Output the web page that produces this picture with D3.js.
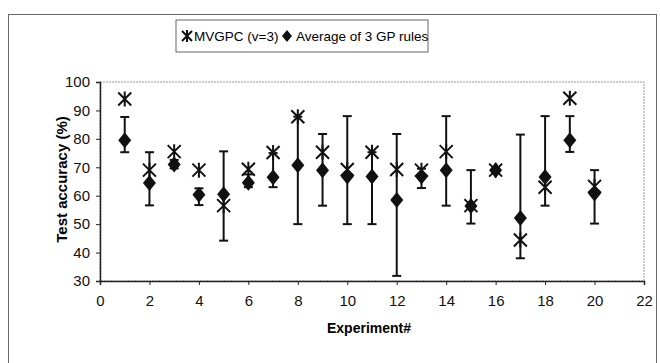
<!DOCTYPE html>
<html>
<head>
<meta charset="utf-8">
<script src="https://cdn.jsdelivr.net/npm/d3@7"></script>
<style>
  body { margin: 0; background: #fff; }
  svg { font-family: "Liberation Sans", Arial, sans-serif; }
</style>
</head>
<body>
<svg id="chart" width="660" height="363"></svg>
<script>
// values
const experiments = [1, 2, 3, 4, 5, 6, 7, 8, 9, 10, 11, 12, 13, 14, 15, 16, 17, 18, 19, 20];
const mvgpc = [94, 69, 75.5, 69, 56.5, 69.3, 75.2, 87.8, 75.3, 69.2, 75.3, 69.2, 69, 75.5, 56.5, 69, 44.4, 63, 94.3, 63.3];
const avgRules = [79.5, 64.5, 71, 60.3, 60.5, 64.6, 66.5, 70.7, 69, 66.8, 66.8, 58.5, 66.8, 69, 56.4, 69, 52.2, 66.6, 79.5, 60.8];
const errLow = [75.3, 56.6, 69.6, 56.7, 44.2, 63, 63, 50, 56.5, 50, 50, 31.8, 62.7, 56.5, 50.2, 68.5, 38, 56.5, 75.4, 50.2];
const errHigh = [87.7, 75.3, 72.6, 62.6, 75.6, 67.5, 75, 87.8, 81.7, 88, 75.3, 81.7, 69.5, 88, 69, 69.5, 81.5, 88, 88, 69];
const xTicks = [0, 2, 4, 6, 8, 10, 12, 14, 16, 18, 20, 22];
const yTicks = [30, 40, 50, 60, 70, 80, 90, 100];

const svg = d3.select("#chart");
const margin = { top: 82, right: 16, bottom: 82, left: 100 };
const width = 660 - margin.left - margin.right;
const height = 363 - margin.top - margin.bottom;

// outer frame (bottom edge falls outside the picture)
svg.append("rect")
  .attr("x", 8.5).attr("y", 14.5)
  .attr("width", 648).attr("height", 360)
  .attr("fill", "none").attr("stroke", "#666").attr("stroke-width", 1);

const g = svg.append("g").attr("transform", `translate(${margin.left},${margin.top})`);

const x = d3.scaleLinear().domain([0, 22]).range([0, width]);
const y = d3.scaleLinear().domain([30, 100]).range([height, 0]);

// plot area border (light, dotted)
g.append("rect")
  .attr("width", width).attr("height", height)
  .attr("fill", "none").attr("stroke", "#999").attr("stroke-dasharray", "2,1");

const xAxis = g.append("g")
  .attr("transform", `translate(0,${height})`)
  .call(d3.axisBottom(x).tickValues(xTicks).tickSize(4).tickPadding(10));
const yAxis = g.append("g")
  .call(d3.axisLeft(y).tickValues(yTicks).tickSize(4).tickPadding(6));

[xAxis, yAxis].forEach((a) => {
  a.select(".domain").attr("stroke", "#222").attr("stroke-width", 1.5);
  a.selectAll(".tick line").attr("stroke", "#222");
  a.selectAll("text").attr("font-size", 15).attr("fill", "#111")
    .attr("font-family", "Liberation Sans, Arial, sans-serif");
});

// axis titles
g.append("text")
  .attr("x", width / 2 - 3).attr("y", height + 52)
  .attr("text-anchor", "middle")
  .attr("font-size", 14).attr("font-weight", "bold")
  .text("Experiment#");

g.append("text")
  .attr("transform", "rotate(-90)")
  .attr("x", -height / 2 + 2).attr("y", -33)
  .attr("text-anchor", "middle")
  .attr("font-size", 15).attr("font-weight", "bold")
  .text("Test accuracy (%)");

// error bars
const bars = g.selectAll(".err").data(experiments).enter().append("g").attr("class", "err");
bars.append("line")
  .attr("x1", (d) => x(d)).attr("x2", (d) => x(d))
  .attr("y1", (d, i) => y(errLow[i])).attr("y2", (d, i) => y(errHigh[i]))
  .attr("stroke", "#111").attr("stroke-width", 2);
bars.append("line")
  .attr("x1", (d) => x(d) - 4.5).attr("x2", (d) => x(d) + 4.5)
  .attr("y1", (d, i) => y(errLow[i])).attr("y2", (d, i) => y(errLow[i]))
  .attr("stroke", "#111").attr("stroke-width", 2);
bars.append("line")
  .attr("x1", (d) => x(d) - 4.5).attr("x2", (d) => x(d) + 4.5)
  .attr("y1", (d, i) => y(errHigh[i])).attr("y2", (d, i) => y(errHigh[i]))
  .attr("stroke", "#111").attr("stroke-width", 2);

// diamond marker for average
const diamond = "M0,-8L6.5,0L0,8L-6.5,0Z";
g.selectAll(".avg").data(experiments).enter().append("path")
  .attr("class", "avg")
  .attr("d", diamond)
  .attr("transform", (d, i) => `translate(${x(d)},${y(avgRules[i])})`)
  .attr("fill", "#111");

// asterisk marker for MVGPC
const star = "M0,-7.5L0,7.5M-6.5,-6.5L6.5,6.5M-6.5,6.5L6.5,-6.5";
g.selectAll(".mv").data(experiments).enter().append("path")
  .attr("class", "mv")
  .attr("d", star)
  .attr("transform", (d, i) => `translate(${x(d)},${y(mvgpc[i])})`)
  .attr("fill", "none").attr("stroke", "#111").attr("stroke-width", 2);

// legend
const legend = svg.append("g").attr("transform", "translate(176,20)");
legend.append("rect")
  .attr("width", 252).attr("height", 32)
  .attr("fill", "#fff").attr("stroke", "#666");
legend.append("path").attr("d", "M0,-6L0,6M-5,-5L5,5M-5,5L5,-5")
  .attr("transform", "translate(11,16)")
  .attr("fill", "none").attr("stroke", "#111").attr("stroke-width", 2);
legend.append("text").attr("x", 18).attr("y", 21)
  .attr("font-size", 13.5).text("MVGPC (v=3)");
legend.append("path").attr("d", "M0,-6L5,0L0,6L-5,0Z")
  .attr("transform", "translate(111,16)").attr("fill", "#111");
legend.append("text").attr("x", 120).attr("y", 21)
  .attr("font-size", 13.5).text("Average of 3 GP rules");
</script>
</body>
</html>
